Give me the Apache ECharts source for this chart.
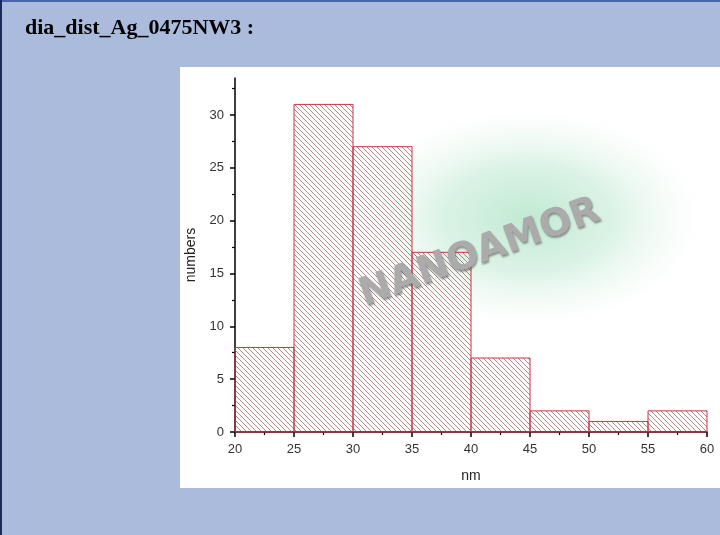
<!DOCTYPE html>
<html>
<head>
<meta charset="utf-8">
<script src="https://cdn.jsdelivr.net/npm/echarts@6/dist/echarts.min.js"></script>
<style>
html,body{margin:0;padding:0;width:720px;height:535px;overflow:hidden;background:#aabbdc;}
#c{position:absolute;left:0;top:0;width:720px;height:535px;}
</style>
</head>
<body>
<div id="c"></div>
<script>
// ---- data ----
const binStart = [20, 25, 30, 35, 40, 45, 50, 55];
const binEnd   = [25, 30, 35, 40, 45, 50, 55, 60];
const counts   = [8, 31, 27, 17, 7, 2, 1, 2];
const yMajorTicks = [0, 5, 10, 15, 20, 25, 30];
const yMinorTicks = [2.5, 7.5, 12.5, 17.5, 22.5, 27.5, 32.5];
const titleText = 'dia_dist_Ag_0475NW3 :';
const xName = 'nm';
const yName = 'numbers';
const watermark = 'NANOAMOR';

// hatch pattern
const s = 5;
const cv = document.createElement('canvas');
cv.width = s; cv.height = s;
const ctx = cv.getContext('2d');
ctx.strokeStyle = 'rgba(140,70,70,0.65)';
ctx.lineWidth = 1;
for (const k of [-s, 0, s]) {
  ctx.beginPath();
  ctx.moveTo(k, 0);
  ctx.lineTo(k + s, s);
  ctx.stroke();
}
const hatch = { image: cv, repeat: 'repeat' };

const data = binStart.map((b, i) => [b, binEnd[i], counts[i]]);
const font = 'Liberation Sans, Arial, sans-serif';

const chart = echarts.init(document.getElementById('c'), null, { renderer: 'canvas' });
chart.setOption({
  backgroundColor: 'transparent',
  animation: false,
  graphic: [
    { type: 'rect', z: -10, silent: true, shape: { x: 0, y: 0, width: 720, height: 2 }, style: { fill: '#4766a8' } },
    { type: 'rect', z: -10, silent: true, shape: { x: 0, y: 0, width: 2, height: 535 }, style: { fill: '#1a2c5e' } },
    { type: 'rect', z: -10, silent: true, shape: { x: 180, y: 67, width: 540, height: 421 }, style: { fill: '#ffffff' } },
    {
      type: 'circle', z: -5, silent: true, x: 528, y: 218, scaleX: 1.6, scaleY: 1,
      shape: { cx: 0, cy: 0, r: 115 },
      style: {
        fill: {
          type: 'radial', x: 0.5, y: 0.5, r: 0.5,
          colorStops: [
            { offset: 0, color: 'rgba(190,232,208,0.95)' },
            { offset: 0.45, color: 'rgba(205,238,220,0.75)' },
            { offset: 0.8, color: 'rgba(235,248,240,0.35)' },
            { offset: 1, color: 'rgba(255,255,255,0)' }
          ]
        }
      }
    },
    {
      type: 'text', left: 25, top: 17, z: 10,
      style: { text: titleText, font: 'bold 22px "Liberation Serif", "DejaVu Serif", serif', fill: '#000' }
    },
    {
      type: 'text', z: 100, silent: true, x: 480, y: 253, rotation: 20 * Math.PI / 180,
      style: {
        text: watermark, font: 'bold 38px "DejaVu Sans", "Open Sans", sans-serif',
        fill: '#ababab', align: 'center', verticalAlign: 'middle',
        textShadowColor: 'rgba(70,70,70,0.55)', textShadowBlur: 2, textShadowOffsetX: 1, textShadowOffsetY: 2
      }
    }
  ],
  grid: { left: 235, right: 13, top: 78, bottom: 103, containLabel: false },
  xAxis: {
    type: 'value', min: 20, max: 60, interval: 5,
    name: xName, nameLocation: 'middle', nameGap: 37,
    nameTextStyle: { fontFamily: font, fontSize: 14, color: '#222' },
    axisLine: { show: true, onZero: false, lineStyle: { color: '#000', width: 1.5 } },
    axisTick: { show: true, inside: false, length: 5, lineStyle: { color: '#000', width: 1.5 } },
    minorTick: { show: true, splitNumber: 2, length: 3, lineStyle: { color: '#000', width: 1.2 } },
    axisLabel: { fontFamily: font, fontSize: 13, color: '#333', margin: 11 },
    splitLine: { show: false }
  },
  yAxis: [
    {
      type: 'value', min: 0, max: 33.5, position: 'left',
      name: yName, nameLocation: 'middle', nameGap: 33, nameRotate: 90,
      nameTextStyle: { fontFamily: font, fontSize: 14, color: '#222' },
      axisLine: { show: true, onZero: false, lineStyle: { color: '#000', width: 1.5 } },
      axisTick: { show: true, inside: false, length: 5, customValues: yMajorTicks, lineStyle: { color: '#000', width: 1.5 } },
      axisLabel: { customValues: yMajorTicks, fontFamily: font, fontSize: 13, color: '#333', margin: 11 },
      splitLine: { show: false }
    },
    {
      type: 'value', min: 0, max: 33.5, position: 'left', offset: 0,
      axisLine: { show: false },
      axisTick: { show: true, inside: false, length: 3, customValues: yMinorTicks, lineStyle: { color: '#000', width: 1.2 } },
      axisLabel: { show: false },
      splitLine: { show: false }
    }
  ],
  series: [{
    type: 'custom',
    data: data,
    z: 2,
    renderItem: function (params, api) {
      const p0 = api.coord([api.value(0), api.value(2)]);
      const p1 = api.coord([api.value(1), 0]);
      return {
        type: 'rect',
        shape: { x: p0[0], y: p0[1], width: p1[0] - p0[0], height: p1[1] - p0[1] },
        style: { fill: hatch, stroke: '#cc3344', lineWidth: 1 }
      };
    }
  }]
});
</script>
</body>
</html>
